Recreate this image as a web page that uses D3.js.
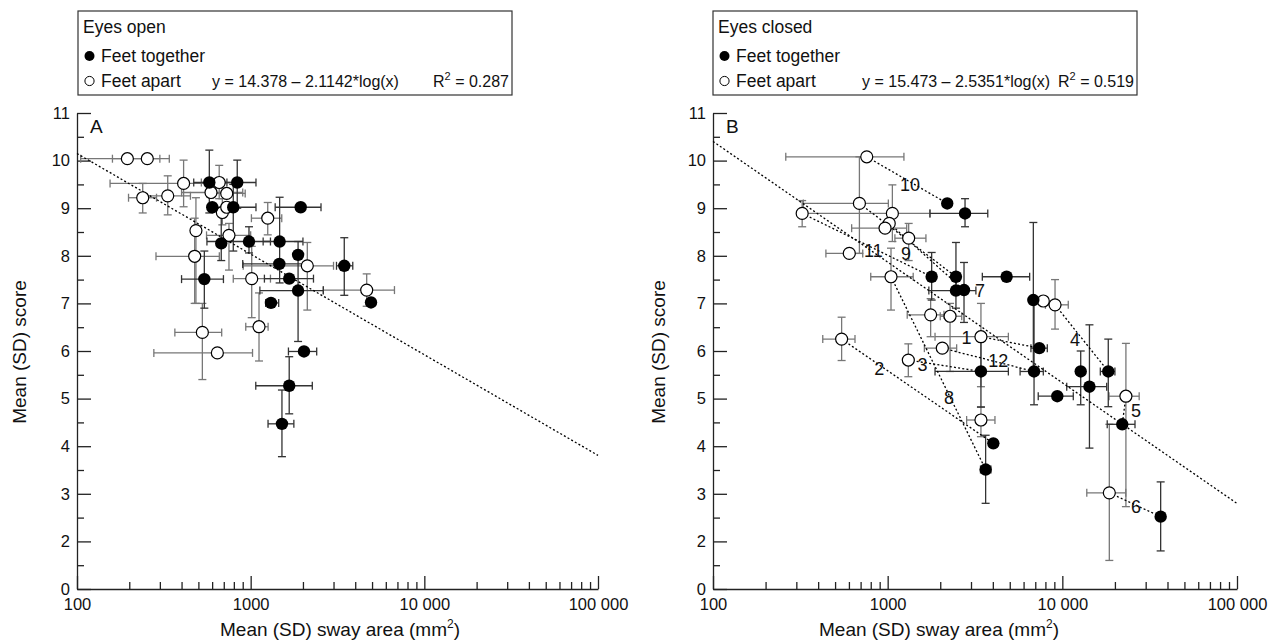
<!DOCTYPE html>
<html>
<head>
<meta charset="utf-8">
<script src="https://cdn.jsdelivr.net/npm/d3@7"></script>
<style>
  body { margin: 0; background: #fff; }
  svg { display: block; }
</style>
</head>
<body>
<div id="chart"></div>
<script>

// ---- data -------------------------------------------------------------
var xDomain = [100, 100000];
var yDomain = [1, 11];
var xMajor = [100, 1000, 10000, 100000];
var xMajorLabels = ["100", "1000", "10 000", "100 000"];
var yMajor = [1, 2, 3, 4, 5, 6, 7, 8, 9, 10, 11];
var yMajorLabels = ["0", "2", "3", "4", "5", "6", "7", "8", "9", "10", "11"];

var panelTitles = ["Eyes open", "Eyes closed"];
var panelLetters = ["A", "B"];
var fitIntercept = [14.378, 15.473];
var fitSlope = [2.1142, 2.5351];
var fitText = ["y = 14.378 \u2013 2.1142*log(x)", "y = 15.473 \u2013 2.5351*log(x)"];
var fitR2 = ["0.287", "0.519"];

// [x, y, xLow, xHigh, yLow, yHigh]  (null = no bar)
var apartA = [
  [195, 10.04, 105, 300, null, null],
  [254, 10.04, 160, 340, null, null],
  [411, 9.52, 155, 580, 9.03, 10.01],
  [239, 9.22, 198, 287, 8.9, 9.52],
  [333, 9.26, 236, 450, 8.86, 9.68],
  [591, 9.33, 400, 900, null, null],
  [659, 9.54, 520, 830, 9.2, 9.9],
  [728, 9.31, 560, 930, null, null],
  [687, 8.91, null, null, 8.65, 9.2],
  [728, 9.02, null, null, null, null],
  [1254, 8.79, 1010, 1510, 8.44, 9.12],
  [484, 8.53, null, null, 7.0, 9.22],
  [750, 8.43, 557, 1000, 7.7, 8.68],
  [476, 7.99, 285, 660, 7.0, 8.79],
  [1014, 7.52, 794, 1300, 6.7, 8.2],
  [2119, 7.79, 906, 3000, 6.86, 8.28],
  [1117, 6.51, 937, 1260, 5.79, 7.22],
  [527, 6.39, 366, 681, 5.4, 7.0],
  [643, 5.96, 277, 1025, null, null],
  [4657, 7.28, 2621, 6730, 6.94, 7.62]
];
var togetherA = [
  [578, 9.54, 470, 730, 8.9, 10.22],
  [837, 9.54, 630, 1073, 9.0, 10.01],
  [601, 9.02, null, null, null, null],
  [794, 9.02, 600, 1073, 8.1, 9.5],
  [1941, 9.02, 1384, 2541, null, null],
  [677, 8.26, null, null, 7.9, 8.9],
  [978, 8.3, 560, 1300, 8.06, 8.61],
  [1468, 8.3, 1180, 2000, 7.43, 9.23],
  [1462, 7.83, 900, 2100, null, null],
  [1875, 8.02, null, null, null, null],
  [1667, 7.52, 1200, 2300, null, null],
  [1875, 7.27, 1130, 2620, 6.2, 8.3],
  [3459, 7.79, 3120, 3872, 7.17, 8.38],
  [541, 7.51, 400, 697, 6.9, 8.1],
  [1309, 7.01, 1220, 1450, null, null],
  [4932, 7.02, null, null, null, null],
  [2028, 5.99, 1650, 2400, null, null],
  [1667, 5.27, 1070, 2264, 4.68, 5.88],
  [1514, 4.47, 1259, 1773, 3.78, 5.18]
];

var apartB = [
  [759, 10.08, 261, 1239, null, null],
  [689, 9.1, 329, 1009, 8.05, 10.08],
  [324, 8.89, 310, 1746, 8.61, 9.16],
  [1064, 8.89, null, null, 8.3, 9.49],
  [1021, 8.68, null, null, null, null],
  [966, 8.58, 622, 1285, null, null],
  [1319, 8.37, 1100, 1656, 7.9, 8.68],
  [603, 8.05, 443, 720, null, null],
  [1045, 7.56, 800, 1400, 6.86, 8.16],
  [1762, 6.76, 1294, 2100, 6.3, 7.1],
  [2276, 6.73, 2000, 2655, 5.57, 7.0],
  [3420, 6.3, 1867, 4909, 5.25, 7.0],
  [2055, 6.06, 1622, 2483, null, null],
  [1313, 5.81, null, null, 5.46, 6.15],
  [545, 6.25, 425, 650, 5.8, 6.71],
  [3420, 4.55, 2832, 4114, 4.2, 4.83],
  [7782, 7.05, null, null, null, null],
  [9083, 6.97, 8000, 10814, 6.46, 7.5],
  [23120, 5.05, 18497, 27540, 2.73, 6.16],
  [18578, 3.02, 13804, 23070, 1.6, 4.46]
];
var togetherB = [
  [2193, 9.1, null, null, null, null],
  [2773, 8.89, 1746, 3742, 8.61, 9.2],
  [1786, 7.56, null, null, 7.07, 8.07],
  [2460, 7.56, null, null, 6.9, 8.28],
  [4798, 7.56, 3483, 6500, null, null],
  [2460, 7.27, 1721, 3200, null, null],
  [2736, 7.28, null, null, 6.6, 7.86],
  [6823, 7.07, null, null, 5.6, 8.7],
  [3420, 5.57, 1867, 4909, 4.82, 6.3],
  [7380, 6.06, 6611, 8203, null, null],
  [6887, 5.57, 5730, 7782, 4.87, 7.0],
  [12741, 5.57, null, null, 4.87, 6.0],
  [18323, 5.57, 16500, 20000, 4.83, 6.25],
  [14297, 5.25, 10597, 17943, 3.96, 6.55],
  [9356, 5.05, 7278, 11554, null, null],
  [22037, 4.46, 18073, 26063, null, null],
  [4027, 4.06, null, null, null, null],
  [3638, 3.51, 3400, 3900, 2.8, 4.23],
  [36555, 2.52, null, null, 1.8, 3.25]
];

// subject links in panel B: [label, apart index, together index, label x, label y]
var subjectsB = [
  ["10", 0, 0, 1343, 9.5],
  ["6", 19, 18, 26400, 2.73],
  ["4", 17, 12, 11800, 6.25],
  ["5", 18, 15, 26400, 4.76],
  ["2", 14, 16, 896, 5.64],
  ["8", 8, 17, 2244, 5.03],
  ["3", 13, 8, 1585, 5.71],
  ["12", 12, 10, 4295, 5.81],
  ["1", 11, 9, 2831, 6.29],
  ["11", 2, 2, 828, 8.12],
  ["9", 1, 3, 1273, 8.05],
  ["7", 4, 6, 3381, 7.28]
];

// ---- layout -----------------------------------------------------------
var W = 1268, H = 641;
var font = '"Liberation Sans", Arial, Helvetica, sans-serif';

var panels = [
  { left: 77, right: 598, boxX: 78, boxW: 434, eqX: 212, titleX: 340, ytX: 26,
    apart: apartA, together: togetherA, links: [] },
  { left: 713, right: 1237, boxX: 713, boxW: 424, eqX: 862, titleX: 939, ytX: 665,
    apart: apartB, together: togetherB, links: subjectsB }
];

var svg = d3.select("#chart").append("svg")
    .attr("width", W)
    .attr("height", H);

var y = d3.scaleLinear().domain(yDomain).range([589, 113]);

var xMinor = [];
[100, 1000, 10000].forEach(function (d) {
  for (var k = 2; k <= 9; k++) xMinor.push(d * k);
});
var yMinor = yMajor.slice(0, -1).map(function (d) { return d + 0.5; });

function styleAxis(g, size) {
  g.select(".domain").attr("stroke", "#222").attr("stroke-width", 1.3);
  g.selectAll(".tick line").attr("stroke", "#222").attr("stroke-width", 1.3);
  g.selectAll(".tick text")
    .attr("font-family", font)
    .attr("font-size", size)
    .attr("fill", "#111");
}

function errorBars(g, x, pts, color) {
  var cap = 4;
  pts.forEach(function (d) {
    var cx = x(d[0]), cy = y(d[1]);
    if (d[2] !== null) {
      var a = x(d[2]), b = x(d[3]);
      g.append("line").attr("x1", a).attr("x2", b).attr("y1", cy).attr("y2", cy).attr("stroke", color);
      g.append("line").attr("x1", a).attr("x2", a).attr("y1", cy - cap).attr("y2", cy + cap).attr("stroke", color);
      g.append("line").attr("x1", b).attr("x2", b).attr("y1", cy - cap).attr("y2", cy + cap).attr("stroke", color);
    }
    if (d[4] !== null) {
      var lo = y(d[4]), hi = y(d[5]);
      g.append("line").attr("x1", cx).attr("x2", cx).attr("y1", lo).attr("y2", hi).attr("stroke", color);
      g.append("line").attr("x1", cx - cap).attr("x2", cx + cap).attr("y1", lo).attr("y2", lo).attr("stroke", color);
      g.append("line").attr("x1", cx - cap).attr("x2", cx + cap).attr("y1", hi).attr("y2", hi).attr("stroke", color);
    }
  });
}

panels.forEach(function (p, i) {
  var x = d3.scaleLog().domain(xDomain).range([p.left, p.right]);

  // legend box
  svg.append("rect")
    .attr("x", p.boxX).attr("y", 11)
    .attr("width", p.boxW).attr("height", 84)
    .attr("fill", "none").attr("stroke", "#333").attr("stroke-width", 1.2);

  var lg = svg.append("g").attr("font-family", font).attr("font-size", 17.5).attr("fill", "#111");
  lg.append("text").attr("x", p.boxX + 5).attr("y", 33).text(panelTitles[i]);
  lg.append("circle").attr("cx", p.boxX + 11.5).attr("cy", 56).attr("r", 5).attr("fill", "#000");
  lg.append("text").attr("x", p.boxX + 23).attr("y", 62).text("Feet together");
  lg.append("circle").attr("cx", p.boxX + 11.5).attr("cy", 81).attr("r", 4.6)
    .attr("fill", "#fff").attr("stroke", "#000").attr("stroke-width", 1);
  lg.append("text").attr("x", p.boxX + 23).attr("y", 87).text("Feet apart");
  lg.append("text").attr("x", p.eqX).attr("y", 87).attr("font-size", 16).text(fitText[i]);
  var rt = lg.append("text")
    .attr("x", p.boxX + p.boxW - 3).attr("y", 87)
    .attr("font-size", 16)
    .attr("text-anchor", "end");
  rt.append("tspan").text("R");
  rt.append("tspan").attr("dy", -7).attr("font-size", 11).text("2");
  rt.append("tspan").attr("dy", 7).text(" = " + fitR2[i]);

  // axes
  var xMinorAxis = svg.append("g").attr("transform", "translate(0," + y(1) + ")")
    .call(d3.axisBottom(x).tickValues(xMinor).tickFormat("").tickSize(-7).tickSizeOuter(0));
  xMinorAxis.select(".domain").remove();
  styleAxis(xMinorAxis, 16.5);

  var xAxis = svg.append("g").attr("transform", "translate(0," + y(1) + ")")
    .call(d3.axisBottom(x).tickValues(xMajor)
      .tickFormat(function (d, k) { return xMajorLabels[k]; })
      .tickSize(-13).tickSizeOuter(0).tickPadding(9));
  styleAxis(xAxis, 16.5);

  var yMinorAxis = svg.append("g").attr("transform", "translate(" + p.left + ",0)")
    .call(d3.axisLeft(y).tickValues(yMinor).tickFormat("").tickSize(-7).tickSizeOuter(0));
  yMinorAxis.select(".domain").remove();
  styleAxis(yMinorAxis, 16.5);

  var yAxis = svg.append("g").attr("transform", "translate(" + p.left + ",0)")
    .call(d3.axisLeft(y).tickValues(yMajor)
      .tickFormat(function (d, k) { return yMajorLabels[k]; })
      .tickSize(-14).tickSizeOuter(0).tickPadding(7));
  styleAxis(yAxis, 16.5);

  // axis titles
  var xt = svg.append("text")
    .attr("x", p.titleX).attr("y", 636)
    .attr("text-anchor", "middle")
    .attr("font-family", font).attr("font-size", 19).attr("fill", "#111");
  xt.append("tspan").text("Mean (SD) sway area (mm");
  xt.append("tspan").attr("dy", -8).attr("font-size", 12).text("2");
  xt.append("tspan").attr("dy", 8).text(")");

  svg.append("text")
    .attr("transform", "translate(" + p.ytX + ",352) rotate(-90)")
    .attr("text-anchor", "middle")
    .attr("font-family", font).attr("font-size", 19).attr("fill", "#111")
    .text("Mean (SD) score");

  svg.append("text")
    .attr("x", p.left + 13).attr("y", 133)
    .attr("font-family", font).attr("font-size", 19).attr("fill", "#111")
    .text(panelLetters[i]);

  // error bars
  var eb = svg.append("g").attr("stroke-width", 1.3);
  errorBars(eb, x, p.apart, "#777");
  errorBars(eb, x, p.together, "#333");

  // regression line
  var fit = function (v) { return fitIntercept[i] - fitSlope[i] * Math.log10(v); };
  svg.append("line")
    .attr("x1", x(xDomain[0])).attr("y1", y(fit(xDomain[0])))
    .attr("x2", x(xDomain[1])).attr("y2", y(fit(xDomain[1])))
    .attr("stroke", "#000").attr("stroke-width", 1.3)
    .attr("stroke-dasharray", "2,2.2");

  // subject links
  var lk = svg.append("g");
  lk.selectAll("line")
    .data(p.links)
    .enter().append("line")
    .attr("x1", function (d) { return x(p.apart[d[1]][0]); })
    .attr("y1", function (d) { return y(p.apart[d[1]][1]); })
    .attr("x2", function (d) { return x(p.together[d[2]][0]); })
    .attr("y2", function (d) { return y(p.together[d[2]][1]); })
    .attr("stroke", "#000").attr("stroke-width", 1.3)
    .attr("stroke-dasharray", "2,2.2");

  // points
  var pts = svg.append("g");
  pts.selectAll("circle.apart")
    .data(p.apart)
    .enter().append("circle")
    .attr("class", "apart")
    .attr("cx", function (d) { return x(d[0]); })
    .attr("cy", function (d) { return y(d[1]); })
    .attr("r", 6)
    .attr("fill", "#fff").attr("stroke", "#000").attr("stroke-width", 1.2);
  pts.selectAll("circle.together")
    .data(p.together)
    .enter().append("circle")
    .attr("class", "together")
    .attr("cx", function (d) { return x(d[0]); })
    .attr("cy", function (d) { return y(d[1]); })
    .attr("r", 6.2)
    .attr("fill", "#000");

  // subject numbers
  lk.selectAll("text")
    .data(p.links)
    .enter().append("text")
    .attr("x", function (d) { return x(d[3]); })
    .attr("y", function (d) { return y(d[4]); })
    .attr("dy", "0.36em")
    .attr("text-anchor", "middle")
    .attr("font-family", font).attr("font-size", 18).attr("fill", "#111")
    .text(function (d) { return d[0]; });
});

</script>
</body>
</html>
